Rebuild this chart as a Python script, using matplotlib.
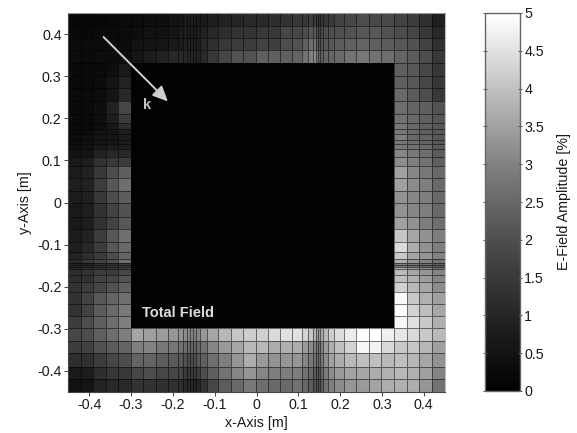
import numpy as np
import matplotlib
matplotlib.use("Agg")
import matplotlib.pyplot as plt
from matplotlib.colors import LinearSegmentedColormap

plt.rcParams['font.family'] = ['Liberation Sans', 'DejaVu Sans']

x_edges = [-.451,-.420,-.391,-.360,-.331,-.301,-.271,-.241,-.211,-.189,-.175,-.167,-.159,-.152,-.144,-.136,
           -.118,-.092,-.062,-.032,-.002,.028,.057,.086,.109,.124,.134,.142,.148,.153,.159,.171,.186,.209,
           .239,.269,.299,.329,.359,.389,.421,.451]
y_edges = [.449,.419,.390,.361,.331,.300,.271,.240,.209,.188,.174,.162,.148,.139,.127,.109,.087,.057,.027,
           -.002,-.034,-.064,-.093,-.117,-.135,-.144,-.148,-.154,-.159,-.172,-.188,-.212,-.240,-.270,-.299,
           -.329,-.358,-.390,-.420,-.449]

# Top band, four rows, top to bottom, all 41 columns
top_1 = [.2,.2,.2,.25,.3, .35,.4,.4,.5,.6,.7,.8,.85,.8,.7,.7,.85,.97,1.05,1.15,1.15,1.25,
         1.35,1.5,1.5,1.6,1.6,1.5,1.4,1.4,1.45,1.5,1.75,1.85,2.0,1.9,1.9, 1.75,1.6,1.3,.85]
top_2 = [.25,.25,.3,.3,.3, .4,.5,.5,.6,.75,.85,.85,.85,.8,.8,.97,1.1,1.25,1.35,1.4,1.5,1.5,
         1.85,1.85,2.0,2.2,2.25,2.0,1.85,1.9,2.0,2.0,2.05,2.1,2.2,2.2,2.1, 2.0,1.85,1.5,1.1]
top_3 = [.3,.3,.3,.35,.35, .5,.55,.6,.7,.8,.9,.9,.9,.85,.85,1.1,1.3,1.5,1.6,1.6,1.75,1.65,
         2.0,2.1,2.35,2.65,2.7,2.35,2.1,2.1,2.2,2.2,2.3,2.35,2.45,2.35,2.3, 2.2,2.1,1.75,1.3]
top_4 = [.3,.3,.35,.35,.4, .55,.8,.97,1.1,1.15,1.1,1.05,1.05,.97,.97,1.1,1.5,1.85,2.1,2.1,2.35,2.35,
         2.35,2.45,2.75,3.0,3.2,2.85,2.45,2.35,2.45,2.45,2.55,2.75,2.85,2.75,2.65, 2.45,2.3,2.0,1.5]

# Bottom band, five rows, top to bottom, all 41 columns
bottom_1 = [1.85,2.0,2.35,2.65,2.95, 3.6,3.5,3.45,3.35,3.3,3.2,3.1,3.05,3.05,3.1,3.35,3.6,3.85,4.1,4.2,4.25,4.4,
            4.5,4.5,4.3,4.1,3.8,3.5,3.4,3.6,3.9,4.2,4.45,4.7,4.95,5.0,4.75, 4.6,4.4,4.15,3.9]
bottom_2 = [1.6,1.75,2.1,2.3,2.45, 3.0,3.05,2.85,2.8,2.7,2.6,2.5,2.45,2.45,2.5,2.7,3.1,3.4,3.6,3.9,3.9,3.7,
            3.75,3.7,3.45,3.2,3.0,2.8,2.75,3.0,3.4,3.7,4.0,4.3,4.85,4.8,4.4, 4.15,4.1,3.85,3.5]
bottom_3 = [1.25,1.3,1.6,1.85,2.0, 2.45,2.45,2.3,2.25,2.2,2.1,2.0,2.0,2.05,2.2,2.35,2.65,2.95,3.35,3.7,3.4,3.3,
            3.35,3.35,3.1,2.9,2.7,2.6,2.55,2.8,3.2,3.5,3.7,3.9,4.0,4.0,3.9, 4.0,3.85,3.6,3.3]
bottom_4 = [.7,.8,1.25,1.5,1.5, 1.85,2.0,1.85,1.85,1.8,1.6,1.5,1.5,1.5,1.6,2.0,2.35,2.75,3.1,3.35,3.1,2.95,
            2.95,2.95,2.7,2.5,2.3,2.2,2.15,2.45,2.9,3.2,3.4,3.55,3.6,3.7,3.75, 3.9,3.75,3.5,3.05]
bottom_5 = [.5,.55,.95,1.1,1.1, 1.35,1.35,1.3,1.3,1.25,1.15,1.1,1.05,.95,1.05,1.35,1.85,2.3,2.55,2.85,2.65,2.55,
            2.55,2.7,2.5,2.3,2.1,2.0,2.0,2.3,2.7,3.0,3.2,3.35,3.4,3.55,3.7, 3.75,3.7,3.35,2.75]

# Left band beside the total-field box: 30 rows of 5 columns
left_band = [
    [.28,.28,.28,.4,.7],[.28,.28,.35,.55,.97],[.28,.28,.35,.6,1.1],[.28,.28,.4,.97,1.85],
    [.28,.28,.4,.85,1.6],[.28,.28,.4,.7,1.25],[.28,.35,.5,.6,.85],[.35,.4,.55,.6,.8],
    [.4,.45,.6,.65,.85],[.4,.5,.7,.8,.85],[.5,.55,.97,1.1,1.1],[.7,.85,1.35,1.5,1.6],
    [.8,.97,1.5,2.0,2.35],[.85,.97,1.6,2.2,2.65],[.8,.9,1.5,2.0,2.3],[.7,.85,1.35,1.75,2.1],
    [.7,.85,1.35,1.75,2.2],[.8,.97,1.6,2.2,2.65],[.85,1.1,1.6,2.2,2.55],[.97,1.25,1.6,2.0,2.45],
    [1.1,1.5,1.75,2.0,2.65],[.97,.97,1.25,1.35,1.5],[1.1,1.1,1.35,1.5,1.6],[1.1,1.25,1.35,1.5,1.75],
    [1.25,1.35,1.6,1.6,1.85],[1.25,1.35,1.75,1.85,2.1],[1.35,1.6,1.85,2.1,2.35],[1.35,1.75,2.2,2.45,2.65],
    [1.35,1.75,2.3,2.55,2.85],[1.6,2.0,2.35,2.65,2.95]]

# Right band beside the total-field box: 30 rows of 4 columns
right_band = [
    [2.35,2.2,1.85,1.5],[2.35,2.2,1.85,1.5],[2.55,2.3,2.0,1.5],[2.65,2.45,2.35,2.1],
    [2.75,2.55,2.35,2.2],[2.85,2.55,2.35,2.2],[2.85,2.55,2.35,2.2],[2.95,2.55,2.45,2.2],
    [2.85,2.65,2.45,2.2],[2.85,2.75,2.55,2.3],[3.1,2.85,2.65,2.3],[3.2,2.95,2.75,2.35],
    [3.5,3.1,2.85,2.55],[3.5,3.2,2.95,2.55],[3.3,3.1,2.95,2.55],[3.3,3.1,2.95,2.55],
    [3.5,3.3,2.95,2.65],[4.1,3.6,3.3,2.95],[4.4,3.7,3.3,2.95],[4.15,3.6,3.35,3.05],
    [3.7,3.35,3.05,2.75],[3.05,2.85,2.65,2.35],[2.85,2.65,2.45,2.3],[3.6,3.35,3.1,2.75],
    [3.9,3.6,3.35,3.05],[4.0,3.75,3.45,3.1],[4.25,3.9,3.6,3.2],[4.9,4.15,3.75,3.5],
    [5.0,4.3,4.0,3.6],[4.85,4.5,4.15,3.75]]

box_level = 0.06

grey_levels = [0, .14, .30, .50, .75, 1]
amplitude_ticks = [0, .5, 1, 1.5, 2, 2.5, 3, 3.5, 4, 4.5, 5]
amplitude_labels = ['0', '0.5', '1', '1.5', '2', '2.5', '3', '3.5', '4', '4.5', '5']
space_ticks = [-.4, -.3, -.2, -.1, 0, .1, .2, .3, .4]
space_labels = ['-0.4', '-0.3', '-0.2', '-0.1', '0', '0.1', '0.2', '0.3', '0.4']

W, H = 577, 433
fig = plt.figure(figsize=(W / 100, H / 100), dpi=100, facecolor='white')
ax = fig.add_axes([68 / W, 1 - 392 / H, 377 / W, 379 / H])
cax = fig.add_axes([485 / W, 1 - 391 / H, 35 / W, 378 / H])

cmap = LinearSegmentedColormap.from_list(
    'scan', [(i / 5, (g, g, g)) for i, g in enumerate(grey_levels)])

Z = np.full((len(y_edges) - 1, len(x_edges) - 1), float(box_level))
Z[0:4, :] = [top_1, top_2, top_3, top_4]
Z[34:39, :] = [bottom_1, bottom_2, bottom_3, bottom_4, bottom_5]
Z[4:34, :5] = left_band
Z[4:34, 37:] = right_band

X = np.array(x_edges)
Y = np.array(y_edges)
mesh = ax.pcolormesh(X, Y, Z, cmap=cmap, vmin=0, vmax=5,
                     edgecolors=(0, 0, 0, .5), linewidth=0.7)
ax.pcolormesh(X[5:38], Y[4:35], Z[4:34, 5:37], cmap=cmap, vmin=0, vmax=5, zorder=2)

ax.set_xlim(-.451, .451)
ax.set_ylim(-.45, .45)
ax.set_xticks(space_ticks, space_labels)
ax.set_yticks(space_ticks, space_labels)
ax.tick_params(length=3, width=0.7, color='#444444', labelcolor='#1a1a1a',
               labelsize=10.3, pad=1.5)
ax.set_xlabel('x-Axis [m]', fontsize=10.3, color='#1a1a1a', labelpad=2.5)
ax.set_ylabel('y-Axis [m]', fontsize=10.3, color='#1a1a1a', labelpad=4)
for side, col in zip(['left', 'bottom', 'top', 'right'],
                     ['#444444', '#444444', '#999999', '#bbbbbb']):
    ax.spines[side].set_color(col)
    ax.spines[side].set_linewidth(0.8)

ax.annotate('', xy=(-.212, .240), xytext=(-.366, .393), zorder=5,
            arrowprops=dict(arrowstyle='-|>,head_length=0.65,head_width=0.3',
                            color='#cfcfcf', lw=1.4, shrinkA=0, shrinkB=0,
                            mutation_scale=14))
ax.text(-.262, .231, 'k', color='#c4c4c4', fontsize=10.5, fontweight='bold',
        ha='center', va='center', zorder=5)
ax.text(-.274, -.262, 'Total Field', color='#dddddd', fontsize=10.5, fontweight='bold',
        ha='left', va='center', zorder=5)

cb = fig.colorbar(mesh, cax=cax, ticks=amplitude_ticks)
cb.set_ticklabels(amplitude_labels)
cb.solids.set_edgecolor('face')
cb.outline.set_edgecolor('#666666')
cb.outline.set_linewidth(1.0)
cax.tick_params(axis='y', direction='inout', length=3, width=0.7, left=True, right=True,
                color='#555555', labelcolor='#1a1a1a', labelsize=10.3, pad=1.5)
cax.set_ylabel('E-Field Amplitude [%]', fontsize=10.3, color='#1a1a1a', labelpad=9.5)

fig.savefig('out.png', dpi=100, facecolor='white')
